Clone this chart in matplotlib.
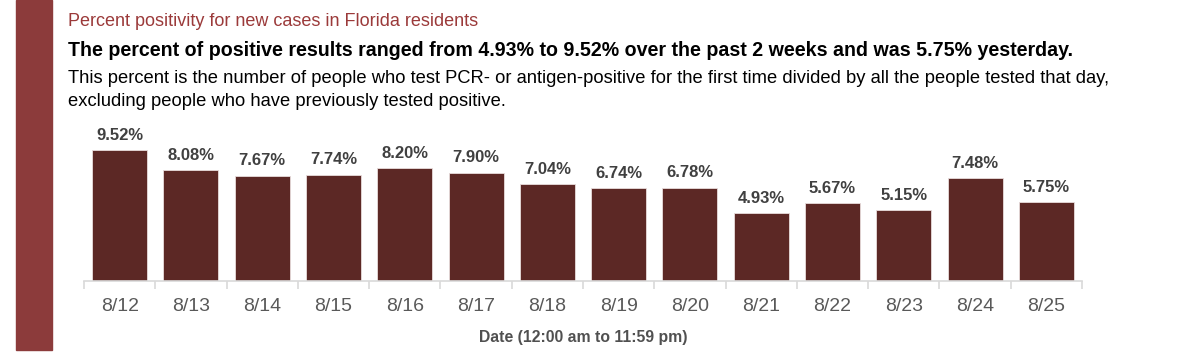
import matplotlib
matplotlib.use("Agg")
import matplotlib.pyplot as plt
import numpy as np

dates = ["8/12", "8/13", "8/14", "8/15", "8/16", "8/17", "8/18",
         "8/19", "8/20", "8/21", "8/22", "8/23", "8/24", "8/25"]
positivity = [9.52, 8.08, 7.67, 7.74, 8.20, 7.90, 7.04,
              6.74, 6.78, 4.93, 5.67, 5.15, 7.48, 5.75]

title = "Percent positivity for new cases in Florida residents"
subtitle = ("The percent of positive results ranged from 4.93% to 9.52% "
            "over the past 2 weeks and was 5.75% yesterday.")
note = ("This percent is the number of people who test PCR- or antigen-positive "
        "for the first time divided by all the people tested that day,\n"
        "excluding people who have previously tested positive.")

plt.rcParams['font.family'] = ['Liberation Sans', 'DejaVu Sans']

W, H = 1200, 363
fig = plt.figure(figsize=(W / 100, H / 100), dpi=100)

# red stripe on the left
fig.patches.append(plt.Rectangle((16 / W, 1 - 350 / H), 36 / W, 350 / H,
                                 transform=fig.transFigure, color="#8C3B3B"))

fig.text(68 / W, 1 - 22 / H, title, color="#9B3A3A", fontsize=13, va="center")
fig.text(68 / W, 1 - 50 / H, subtitle, color="black", fontsize=14.1,
         fontweight="bold", va="center")
fig.text(68 / W, 1 - 90 / H, note, color="black", fontsize=13.2, va="center",
         linespacing=1.45)

# axes: baseline at y=281, 13.73 px per unit
ymax = 10.5
top = 281 - ymax * 13.73
ax = fig.add_axes([84 / W, 1 - 281 / H, (1082 - 84) / W, (281 - top) / H])
x = np.arange(len(dates))
ax.bar(x, positivity, width=0.77, color="#5C2825", edgecolor="#e8dcdc", linewidth=0.6)
for xi, v in zip(x, positivity):
    ax.text(xi, v + 0.55, f"{v:.2f}%", ha="center", va="bottom",
            fontsize=12, fontweight="bold", color="#404040", clip_on=False)

ax.set_xlim(-0.5, len(dates) - 0.5)
ax.set_ylim(0, ymax)
ax.set_yticks([])
for s in ["top", "right", "left"]:
    ax.spines[s].set_visible(False)
ax.spines["bottom"].set_color("#d9d9d9")
ax.spines["bottom"].set_linewidth(1.2)

ax.set_xticks(x)
ax.set_xticklabels(dates, fontsize=14, color="#595959")
ax.tick_params(axis="x", length=0, pad=12)
ax.set_xticks(np.arange(-0.5, len(dates)), minor=True)
ax.tick_params(axis="x", which="minor", length=6, color="#d9d9d9", width=1.2)
ax.set_xlabel("Date (12:00 am to 11:59 pm)", fontsize=11.3, color="#505050",
              fontweight="bold", labelpad=11)

fig.savefig("out.png", dpi=100, facecolor="white")
